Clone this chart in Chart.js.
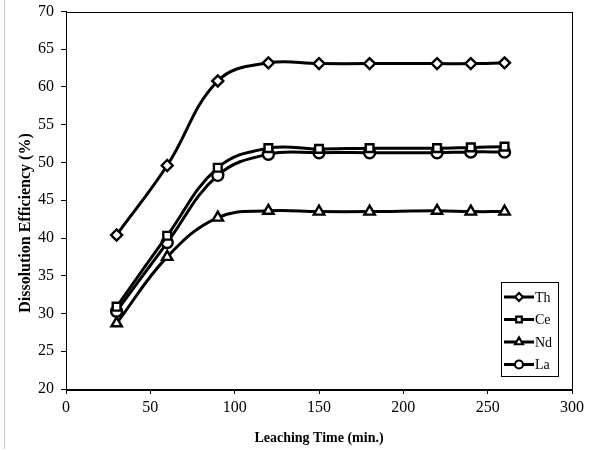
<!DOCTYPE html>
<html lang="en">
<head>
<meta charset="UTF-8">
<title>Dissolution Efficiency</title>
<script src="https://cdn.jsdelivr.net/npm/chart.js"></script>
<style>
  body { margin: 0; background: #fff; }
  #wrap { position: relative; width: 591px; height: 451px; }
  #edge { position: absolute; left: 4px; top: 0; width: 1px; height: 449px; background: #c8c8c8; }
</style>
</head>
<body>
<div id="wrap">
  <canvas id="chart" width="591" height="451"></canvas>
  <div id="edge"></div>
</div>
<script>
  // leaching time (min.)
  const times = [30, 60, 90, 120, 150, 180, 220, 240, 260];
  // dissolution efficiency (%)
  const th = [40.4, 49.6, 60.8, 63.2, 63.1, 63.1, 63.1, 63.1, 63.2];
  const ce = [30.9, 40.3, 49.3, 51.9, 51.8, 51.9, 51.9, 52.0, 52.1];
  const nd = [28.7, 37.5, 42.7, 43.6, 43.5, 43.5, 43.6, 43.5, 43.5];
  const la = [30.3, 39.4, 48.3, 51.1, 51.3, 51.3, 51.3, 51.4, 51.4];
  const yTicks = [20, 25, 30, 35, 40, 45, 50, 55, 60, 65, 70];
  const xTicks = [0, 50, 100, 150, 200, 250, 300];
  const yTitle = 'Dissolution Efficiency (%)';

  const serif = "'Liberation Serif', 'Times New Roman', serif";

  function makeSet(label, values, style, radius) {
    return {
      label: label,
      data: times.map((t, i) => ({ x: t, y: values[i] })),
      borderColor: '#000',
      borderWidth: 3,
      backgroundColor: '#fff',
      pointStyle: style,
      pointRadius: radius,
      pointBorderWidth: 2.4,
      pointBorderColor: '#000',
      pointBackgroundColor: '#fff',
      tension: 0.4,
      fill: false
    };
  }

  // plot frame, y title and legend box like the excel original
  const framePlugin = {
    id: 'frame',
    afterDraw(chart) {
      const ctx = chart.ctx;
      const a = chart.chartArea;
      ctx.save();
      ctx.strokeStyle = '#000';
      ctx.lineWidth = 1;
      ctx.strokeRect(Math.round(a.left) + 0.5, Math.round(a.top) + 0.5,
        Math.round(a.right - a.left), Math.round(a.bottom - a.top));

      // y title (excel puts it a bit below the plot centre)
      ctx.save();
      ctx.translate(26, 223);
      ctx.rotate(-Math.PI / 2);
      ctx.font = 'bold 16px ' + serif;
      ctx.textAlign = 'center';
      ctx.textBaseline = 'middle';
      ctx.fillStyle = '#000';
      ctx.fillText(yTitle, 0, 0);
      ctx.restore();

      // legend
      const bx = 501, by = 282, bw = 57, bh = 94;
      ctx.strokeRect(bx + 0.5, by + 0.5, bw, bh);
      ctx.font = '14px ' + serif;
      ctx.textBaseline = 'middle';
      ctx.fillStyle = '#000';
      chart.data.datasets.forEach((ds, i) => {
        const yy = by + 15 + i * 22.5;
        ctx.lineWidth = 3;
        ctx.beginPath();
        ctx.moveTo(bx + 3, yy);
        ctx.lineTo(bx + 33, yy);
        ctx.stroke();
        ctx.lineWidth = 2.2;
        ctx.fillStyle = '#fff';
        Chart.helpers.drawPoint(ctx, { pointStyle: ds.pointStyle, radius: ds.pointRadius - 1.5, borderWidth: 2.2 }, bx + 18, yy);
        ctx.fillStyle = '#000';
        ctx.fillText(ds.label, bx + 34, yy + 1);
      });
      ctx.restore();
    }
  };

  new Chart(document.getElementById('chart'), {
    type: 'line',
    data: {
      datasets: [
        makeSet('Th', th, 'rectRot', 5.5),
        makeSet('Ce', ce, 'rect', 5.5),
        makeSet('Nd', nd, 'triangle', 6),
        makeSet('La', la, 'circle', 5.5)
      ]
    },
    options: {
      responsive: false,
      animation: false,
      layout: { padding: { left: 0, right: 19, top: 11.5, bottom: 0 } },
      plugins: {
        legend: { display: false },
        tooltip: { enabled: false }
      },
      scales: {
        x: {
          type: 'linear',
          min: 0,
          max: 300,
          afterBuildTicks: s => { s.ticks = xTicks.map(v => ({ value: v })); },
          afterFit: s => { s.height = 62; s.paddingLeft = 0; s.paddingRight = 0; },
          grid: { drawOnChartArea: false, drawTicks: true, tickLength: 5, color: '#000' },
          border: { color: '#000', width: 1 },
          ticks: { color: '#000', font: { family: serif, size: 16 }, padding: 4, maxRotation: 0 },
          title: {
            display: true,
            text: 'Leaching Time (min.)',
            color: '#000',
            font: { family: serif, size: 14, weight: 'bold' },
            padding: { top: 4, bottom: 4.5 }
          }
        },
        y: {
          min: 20,
          max: 70,
          afterBuildTicks: s => { s.ticks = yTicks.map(v => ({ value: v })); },
          afterFit: s => { s.width = 66; s.paddingTop = 0; s.paddingBottom = 0; },
          grid: { drawOnChartArea: false, drawTicks: true, tickLength: 5, color: '#000' },
          border: { color: '#000', width: 1 },
          ticks: { color: '#000', font: { family: serif, size: 16 }, padding: 7 }
        }
      }
    },
    plugins: [framePlugin]
  });
</script>
</body>
</html>
